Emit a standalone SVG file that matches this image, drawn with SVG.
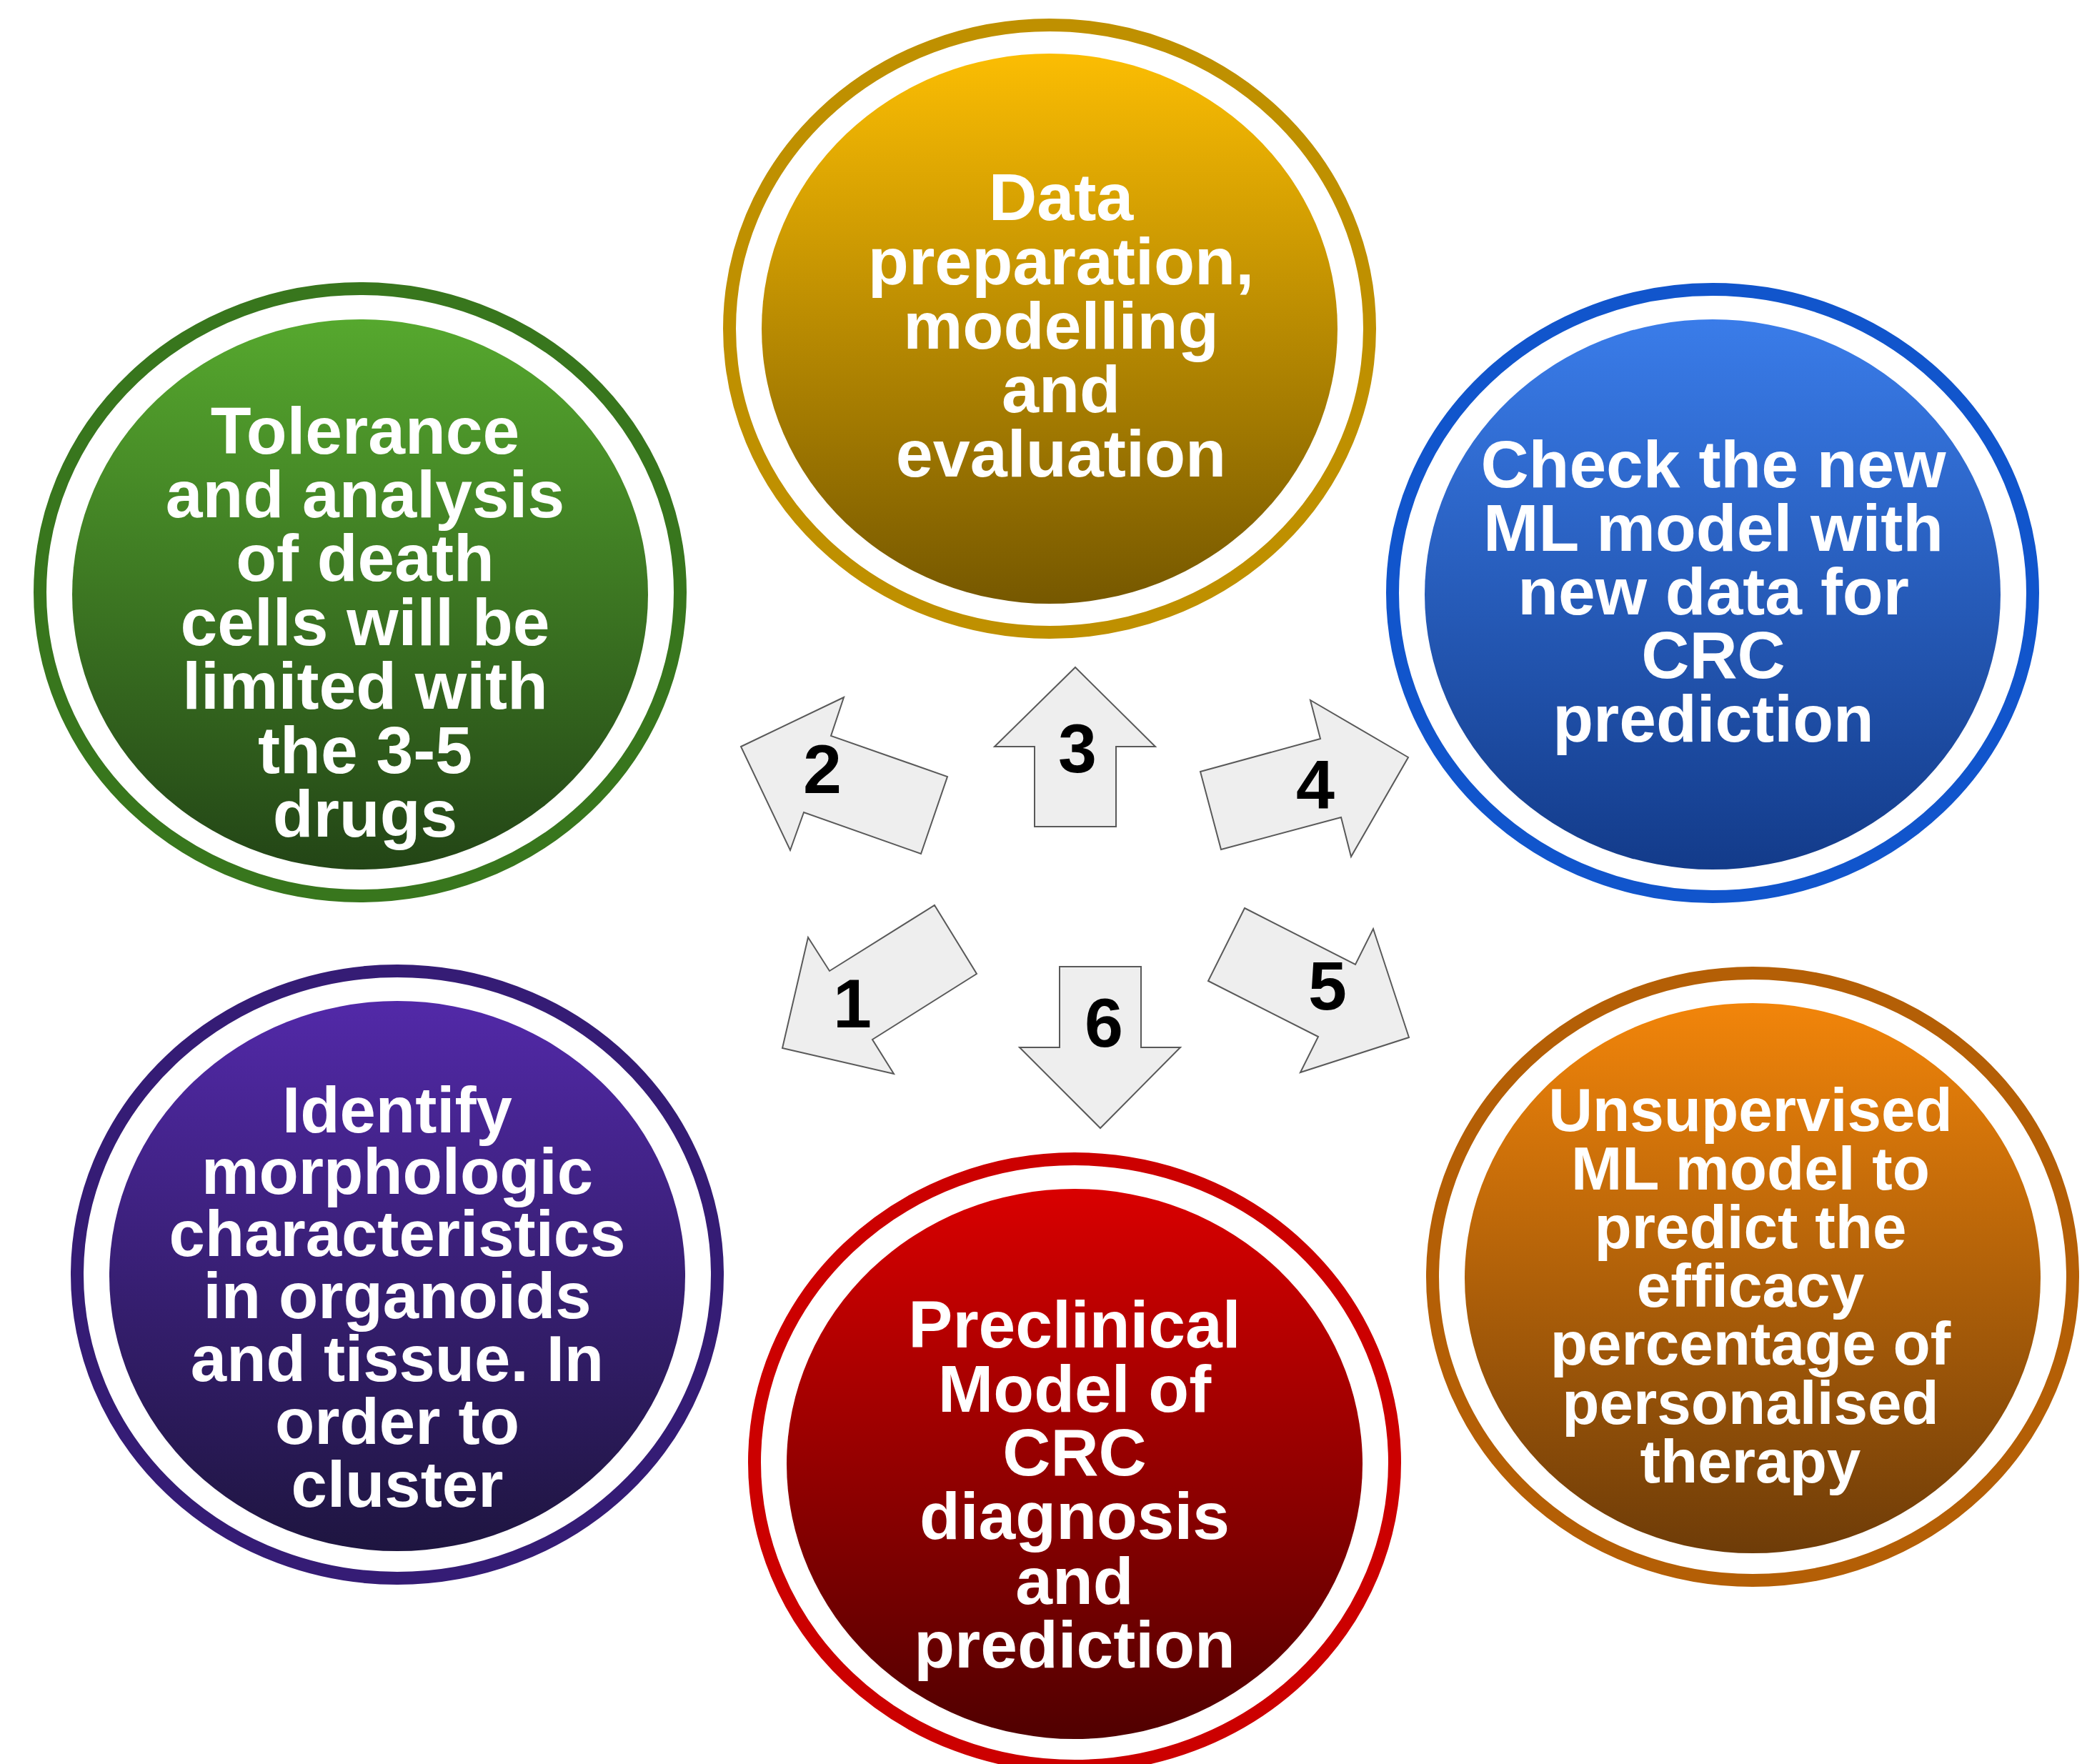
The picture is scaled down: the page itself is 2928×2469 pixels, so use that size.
<svg xmlns="http://www.w3.org/2000/svg" width="2928" height="2469" viewBox="0 0 2928 2469">
<defs>
<linearGradient id="gGreen" x1="0" y1="0" x2="0" y2="1"><stop offset="0" stop-color="#56a82e"/><stop offset="1" stop-color="#234516"/></linearGradient>
<linearGradient id="gGold" x1="0" y1="0" x2="0" y2="1"><stop offset="0" stop-color="#fbbd03"/><stop offset="1" stop-color="#765800"/></linearGradient>
<linearGradient id="gBlue" x1="0" y1="0" x2="0" y2="1"><stop offset="0" stop-color="#3a7ce9"/><stop offset="1" stop-color="#133b8a"/></linearGradient>
<linearGradient id="gPurple" x1="0" y1="0" x2="0" y2="1"><stop offset="0" stop-color="#5229a8"/><stop offset="1" stop-color="#1e1540"/></linearGradient>
<linearGradient id="gRed" x1="0" y1="0" x2="0" y2="1"><stop offset="0" stop-color="#d90000"/><stop offset="1" stop-color="#500000"/></linearGradient>
<linearGradient id="gOrange" x1="0" y1="0" x2="0" y2="1"><stop offset="0" stop-color="#f2850a"/><stop offset="1" stop-color="#6e3c08"/></linearGradient>
<style>
.ring{fill:none;stroke-width:18}
.lbl{font-family:"Liberation Sans",Arial,sans-serif;font-weight:bold;fill:#ffffff;text-anchor:middle}
.arr{fill:#eeeeee;stroke:#595959;stroke-width:2;stroke-linejoin:miter}
.num{font-family:"Liberation Sans",Arial,sans-serif;font-weight:bold;font-size:97px;fill:#000000;text-anchor:middle}
</style>
</defs>
<rect width="2928" height="2469" fill="#ffffff"/>

<g id="node-green">
<ellipse cx="504" cy="829" rx="448" ry="425" class="ring" stroke="#38761d"/>
<ellipse cx="504" cy="832" rx="403" ry="385" fill="url(#gGreen)"/>
<text class="lbl" font-size="93"><tspan x="511" y="635">Tolerance</tspan><tspan x="511" y="724">and analysis</tspan><tspan x="511" y="813">of death</tspan><tspan x="511" y="903">cells will be</tspan><tspan x="511" y="992">limited with</tspan><tspan x="511" y="1082">the 3-5</tspan><tspan x="511" y="1171">drugs</tspan></text>
</g>

<g id="node-gold">
<ellipse cx="1469" cy="460" rx="448" ry="425" class="ring" stroke="#bf9000"/>
<ellipse cx="1469" cy="460" rx="403" ry="385" fill="url(#gGold)"/>
<text class="lbl" font-size="93.5"><tspan x="1485" y="308">Data</tspan><tspan x="1485" y="398">preparation,</tspan><tspan x="1485" y="488">modelling</tspan><tspan x="1485" y="577">and</tspan><tspan x="1485" y="667">evaluation</tspan></text>
</g>

<g id="node-blue">
<ellipse cx="2397" cy="830" rx="448" ry="425" class="ring" stroke="#1155cc"/>
<ellipse cx="2397" cy="832" rx="403" ry="385" fill="url(#gBlue)"/>
<text class="lbl" font-size="93"><tspan x="2398" y="682">Check the new</tspan><tspan x="2398" y="771">ML model with</tspan><tspan x="2398" y="860">new data for</tspan><tspan x="2398" y="949">CRC</tspan><tspan x="2398" y="1038">prediction</tspan></text>
</g>

<g id="node-purple">
<ellipse cx="556" cy="1784" rx="448" ry="425" class="ring" stroke="#351c75"/>
<ellipse cx="556" cy="1786" rx="403" ry="385" fill="url(#gPurple)"/>
<text class="lbl" font-size="90.5"><tspan x="556" y="1585">Identify</tspan><tspan x="556" y="1671">morphologic</tspan><tspan x="556" y="1758">characteristics</tspan><tspan x="556" y="1845">in organoids</tspan><tspan x="556" y="1933">and tissue. In</tspan><tspan x="556" y="2021">order to</tspan><tspan x="556" y="2109">cluster</tspan></text>
</g>

<g id="node-red">
<ellipse cx="1504" cy="2047" rx="448" ry="425" class="ring" stroke="#cc0000"/>
<ellipse cx="1504" cy="2049" rx="403" ry="385" fill="url(#gRed)"/>
<text class="lbl" font-size="93"><tspan x="1504" y="1886">Preclinical</tspan><tspan x="1504" y="1976">Model of</tspan><tspan x="1504" y="2065">CRC</tspan><tspan x="1504" y="2154">diagnosis</tspan><tspan x="1504" y="2245">and</tspan><tspan x="1504" y="2334">prediction</tspan></text>
</g>

<g id="node-orange">
<ellipse cx="2453" cy="1787" rx="448" ry="425" class="ring" stroke="#b45f06"/>
<ellipse cx="2453" cy="1789" rx="403" ry="385" fill="url(#gOrange)"/>
<text class="lbl" font-size="85.5"><tspan x="2450" y="1583">Unsupervised</tspan><tspan x="2450" y="1665">ML model to</tspan><tspan x="2450" y="1747">predict the</tspan><tspan x="2450" y="1829">efficacy</tspan><tspan x="2450" y="1910">percentage of</tspan><tspan x="2450" y="1993">personalised</tspan><tspan x="2450" y="2075">therapy</tspan></text>
</g>

<g id="connectors">
<g id="arrow-1">
<polygon class="arr" points="1308,1267 1367,1363 1221,1455 1251,1503 1095,1467 1131,1312 1161,1359"/>
<text class="num" x="1193" y="1438">1</text>
</g>
<g id="arrow-2">
<polygon class="arr" points="1037,1045 1181,976 1163,1030 1326,1087 1289,1195 1125,1137 1106,1190"/>
<text class="num" x="1151" y="1110">2</text>
</g>
<g id="arrow-3">
<polygon class="arr" points="1505,934 1617,1045 1562,1045 1562,1157 1448,1157 1448,1045 1392,1045"/>
<text class="num" x="1508" y="1081">3</text>
</g>
<g id="arrow-4">
<polygon class="arr" points="1680,1080 1848,1034 1834,980 1971,1060 1891,1199 1877,1144 1709,1189"/>
<text class="num" x="1841" y="1132">4</text>
</g>
<g id="arrow-5">
<polygon class="arr" points="1742,1271 1897,1350 1922,1300 1972,1452 1820,1501 1845,1451 1691,1373"/>
<text class="num" x="1858" y="1413">5</text>
</g>
<g id="arrow-6">
<polygon class="arr" points="1483,1353 1597,1353 1597,1466 1652,1466 1540,1579 1427,1466 1483,1466"/>
<text class="num" x="1545" y="1465">6</text>
</g>
</g>
</svg>
